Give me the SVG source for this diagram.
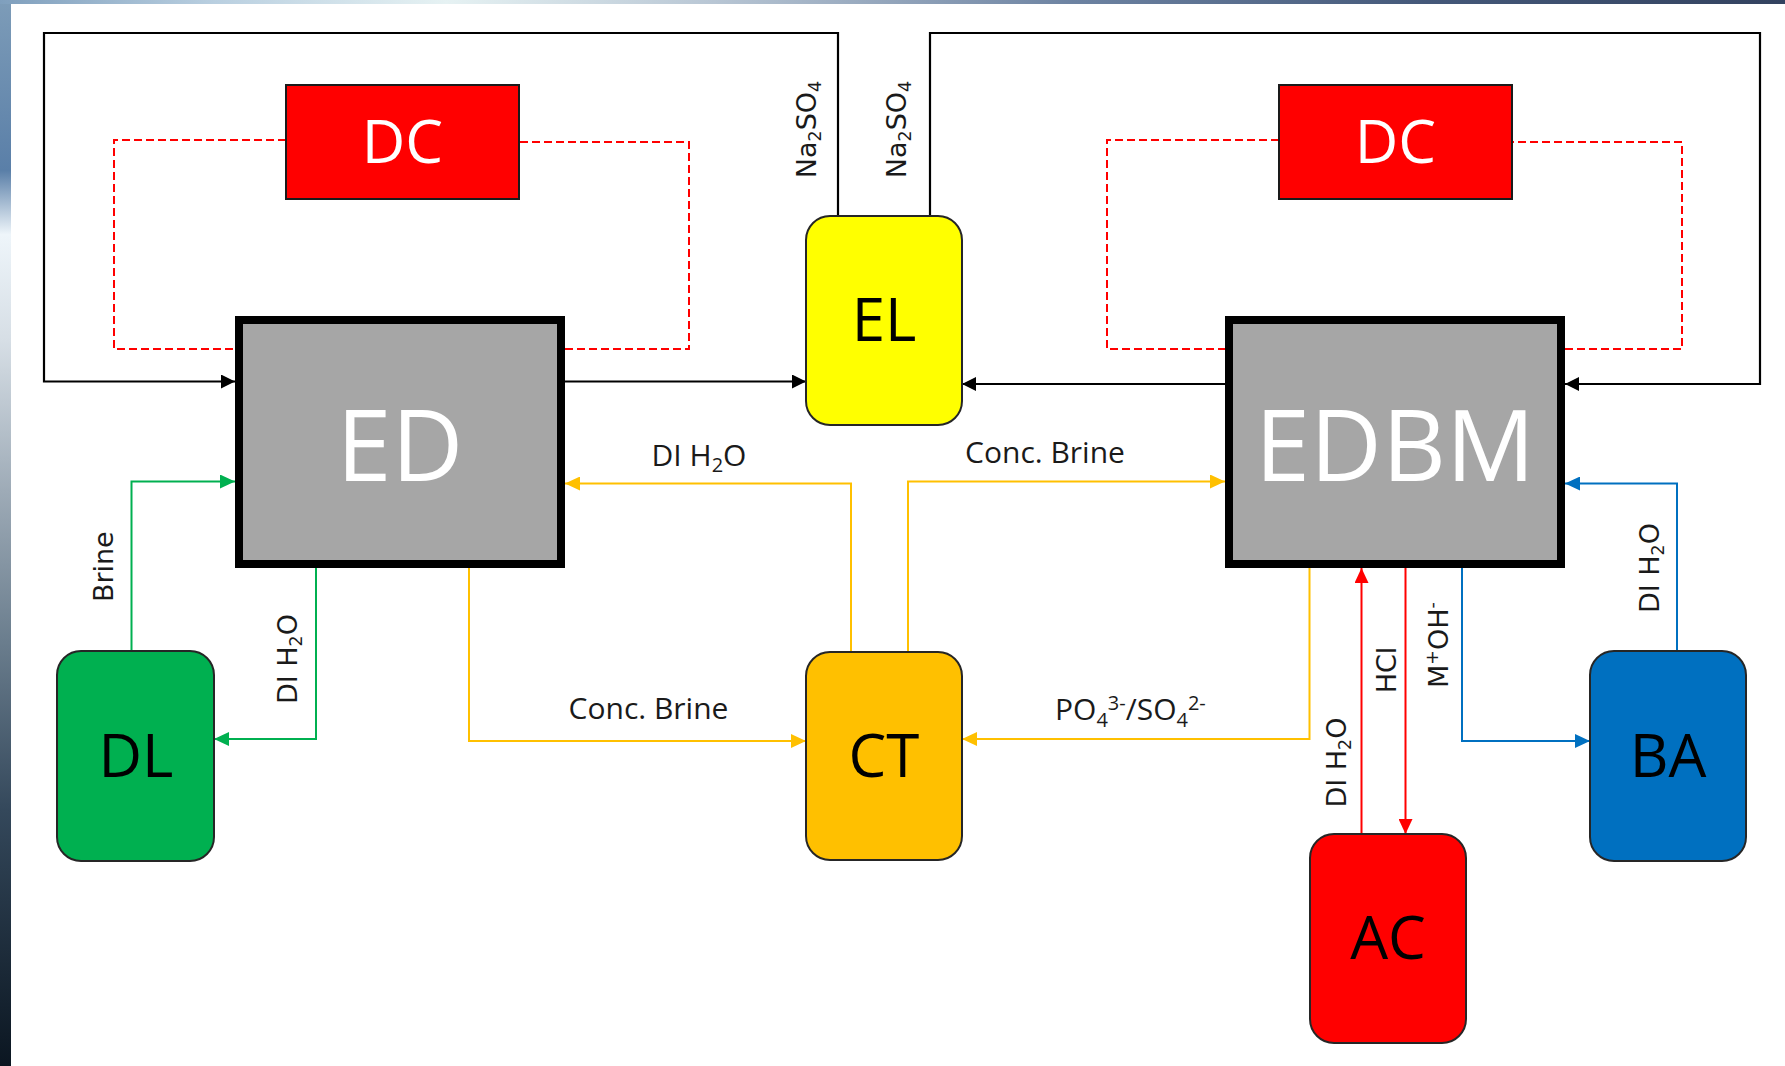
<svg xmlns="http://www.w3.org/2000/svg" width="1785" height="1066" viewBox="0 0 1785 1066">
  <defs>
    <linearGradient id="leftGrad" x1="0" y1="0" x2="0" y2="1">
      <stop offset="0" stop-color="#7d9cb8"/>
      <stop offset="0.16" stop-color="#5a7fa8"/>
      <stop offset="0.22" stop-color="#eef5fa"/>
      <stop offset="0.32" stop-color="#d6dee5"/>
      <stop offset="0.46" stop-color="#9eabb7"/>
      <stop offset="0.6" stop-color="#6b7e8e"/>
      <stop offset="0.76" stop-color="#34485b"/>
      <stop offset="1" stop-color="#0b1621"/>
    </linearGradient>
    <linearGradient id="topGrad" x1="0" y1="0" x2="1" y2="0">
      <stop offset="0" stop-color="#7f9fbd"/>
      <stop offset="0.12" stop-color="#b9cfe0"/>
      <stop offset="0.25" stop-color="#e6f2f3"/>
      <stop offset="0.4" stop-color="#b8c6d4"/>
      <stop offset="0.6" stop-color="#6d83a2"/>
      <stop offset="0.8" stop-color="#445879"/>
      <stop offset="1" stop-color="#33425f"/>
    </linearGradient>
    <marker id="arBlack" markerUnits="userSpaceOnUse" markerWidth="14" markerHeight="14" viewBox="0 0 14 14" refX="14" refY="7" orient="auto">
      <path d="M0,0 L14,7 L0,14 z" fill="#000"/>
    </marker>
    <marker id="arGreen" markerUnits="userSpaceOnUse" markerWidth="15" markerHeight="14" viewBox="0 0 15 14" refX="15" refY="7" orient="auto">
      <path d="M0,0 L15,7 L0,14 z" fill="#00B050"/>
    </marker>
    <marker id="arYellow" markerUnits="userSpaceOnUse" markerWidth="15" markerHeight="14" viewBox="0 0 15 14" refX="15" refY="7" orient="auto">
      <path d="M0,0 L15,7 L0,14 z" fill="#FFC000"/>
    </marker>
    <marker id="arRed" markerUnits="userSpaceOnUse" markerWidth="15" markerHeight="14" viewBox="0 0 15 14" refX="15" refY="7" orient="auto">
      <path d="M0,0 L15,7 L0,14 z" fill="#FF0000"/>
    </marker>
    <marker id="arBlue" markerUnits="userSpaceOnUse" markerWidth="15" markerHeight="14" viewBox="0 0 15 14" refX="15" refY="7" orient="auto">
      <path d="M0,0 L15,7 L0,14 z" fill="#0070C0"/>
    </marker>
  </defs>
  <style>
    .blk { fill: none; stroke: #000; stroke-width: 2.2; }
    .dash { fill: none; stroke: #FF0000; stroke-width: 2; stroke-dasharray: 8 4; }
    .grn { fill: none; stroke: #00B050; stroke-width: 2; }
    .yel { fill: none; stroke: #FFC000; stroke-width: 2; }
    .red { fill: none; stroke: #FF0000; stroke-width: 2; }
    .blu { fill: none; stroke: #0070C0; stroke-width: 2; }
    .dc { fill: #FF0000; stroke: #1a1a1a; stroke-width: 2; }
    .proc { fill: #A6A6A6; stroke: #000; stroke-width: 8; }
    .tank { stroke: #262626; stroke-width: 2; }
    .big { font-family: "Open Sans", "Liberation Sans", sans-serif; font-size: 60px; text-anchor: middle; }
    .huge { font-family: "Open Sans", "Liberation Sans", sans-serif; font-size: 99px; text-anchor: middle; fill: #FFFFFF; }
    .lbl { font-family: "Open Sans", "Liberation Sans", sans-serif; font-size: 30px; fill: #1a1a1a; }
    .rlbl { font-family: "DejaVu Sans", "Liberation Sans", sans-serif; font-size: 27px; fill: #1a1a1a; text-anchor: middle; }
  </style>

  <g id="background">
    <rect x="0" y="0" width="1785" height="1066" fill="#FFFFFF"/>
    <rect x="0" y="0" width="11" height="1066" fill="url(#leftGrad)"/>
    <rect x="0" y="0" width="1785" height="4" fill="url(#topGrad)"/>
  </g>

  <g id="connectors">
    <!-- black electrolyte loops -->
    <path class="blk" d="M838,216 V33 H44 V381.5 H235" marker-end="url(#arBlack)"/>
    <path class="blk" d="M565,381.5 H806" marker-end="url(#arBlack)"/>
    <path class="blk" d="M930,216 V33 H1760 V384 H1565" marker-end="url(#arBlack)"/>
    <path class="blk" d="M1225,384 H962" marker-end="url(#arBlack)"/>
    <!-- red dashed DC wiring -->
    <path class="dash" d="M286,140 H114 V349 H235"/>
    <path class="dash" d="M565,349 H689 V142 H519"/>
    <path class="dash" d="M1279,140 H1107 V349 H1225"/>
    <path class="dash" d="M1565,349 H1682 V142 H1512"/>
    <!-- green -->
    <path class="grn" d="M131.5,651 V481.5 H235" marker-end="url(#arGreen)"/>
    <path class="grn" d="M316,568 V739 H214" marker-end="url(#arGreen)"/>
    <!-- yellow -->
    <path class="yel" d="M469,568 V741 H806" marker-end="url(#arYellow)"/>
    <path class="yel" d="M851,652 V483.5 H565" marker-end="url(#arYellow)"/>
    <path class="yel" d="M908,652 V481.5 H1225" marker-end="url(#arYellow)"/>
    <path class="yel" d="M1309.5,568 V739 H962" marker-end="url(#arYellow)"/>
    <!-- red -->
    <path class="red" d="M1361.5,834 V568" marker-end="url(#arRed)"/>
    <path class="red" d="M1405.5,568 V834" marker-end="url(#arRed)"/>
    <!-- blue -->
    <path class="blu" d="M1462,568 V741 H1590" marker-end="url(#arBlue)"/>
    <path class="blu" d="M1677,651 V483.5 H1565" marker-end="url(#arBlue)"/>

    <!-- connector labels -->
    <text class="rlbl" transform="translate(816,129.5) rotate(-90)">Na<tspan font-size="17.5" dy="5">2</tspan><tspan dy="-5">SO</tspan><tspan font-size="17.5" dy="5">4</tspan></text>
    <text class="rlbl" transform="translate(906,129.5) rotate(-90)">Na<tspan font-size="17.5" dy="5">2</tspan><tspan dy="-5">SO</tspan><tspan font-size="17.5" dy="5">4</tspan></text>
    <text class="rlbl" transform="translate(113,566.7) rotate(-90)">Brine</text>
    <text class="rlbl" transform="translate(297,659) rotate(-90)">DI H<tspan font-size="17.5" dy="5">2</tspan><tspan dy="-5">O</tspan></text>
    <text class="rlbl" transform="translate(1346,762.5) rotate(-90)">DI H<tspan font-size="17.5" dy="5">2</tspan><tspan dy="-5">O</tspan></text>
    <text class="rlbl" transform="translate(1396,670) rotate(-90)">HCl</text>
    <text class="rlbl" transform="translate(1448,645) rotate(-90)">M<tspan font-size="17.5" dy="-10">+</tspan><tspan dy="10">OH</tspan><tspan font-size="17.5" dy="-10">-</tspan></text>
    <text class="rlbl" transform="translate(1659,568) rotate(-90)">DI H<tspan font-size="17.5" dy="5">2</tspan><tspan dy="-5">O</tspan></text>

    <text class="lbl" x="699" y="466" text-anchor="middle">DI H<tspan font-size="20" dy="6">2</tspan><tspan dy="-6">O</tspan></text>
    <text class="lbl" x="1045" y="463" text-anchor="middle">Conc. Brine</text>
    <text class="lbl" x="648.5" y="719" text-anchor="middle">Conc. Brine</text>
    <text class="lbl" x="1055" y="720">PO<tspan font-size="20" dy="7">4</tspan><tspan font-size="20" dy="-17">3-</tspan><tspan dy="10">/SO</tspan><tspan font-size="20" dy="7">4</tspan><tspan font-size="20" dy="-17">2-</tspan></text>
  </g>

  <g id="node-DC-left">
    <rect class="dc" x="286" y="85" width="233" height="114"/>
    <text class="big" x="402.5" y="162.5" fill="#FFFFFF">DC</text>
  </g>
  <g id="node-DC-right">
    <rect class="dc" x="1279" y="85" width="233" height="114"/>
    <text class="big" x="1395.5" y="162.5" fill="#FFFFFF">DC</text>
  </g>
  <g id="node-ED">
    <rect class="proc" x="239" y="320" width="322" height="244"/>
    <text class="huge" x="400" y="480.5">ED</text>
  </g>
  <g id="node-EDBM">
    <rect class="proc" x="1229" y="320" width="332" height="244"/>
    <text class="huge" x="1395" y="480.5">EDBM</text>
  </g>
  <g id="node-EL">
    <rect class="tank" x="806" y="216" width="156" height="209" rx="24" fill="#FFFF00"/>
    <text class="big" x="884" y="341" fill="#000">EL</text>
  </g>
  <g id="node-CT">
    <rect class="tank" x="806" y="652" width="156" height="208" rx="24" fill="#FFC000"/>
    <text class="big" x="884" y="777" fill="#000">CT</text>
  </g>
  <g id="node-DL">
    <rect class="tank" x="57" y="651" width="157" height="210" rx="24" fill="#00B050"/>
    <text class="big" x="136" y="777" fill="#000">DL</text>
  </g>
  <g id="node-BA">
    <rect class="tank" x="1590" y="651" width="156" height="210" rx="24" fill="#0070C0"/>
    <text class="big" x="1668" y="777" fill="#000">BA</text>
  </g>
  <g id="node-AC">
    <rect class="tank" x="1310" y="834" width="156" height="209" rx="24" fill="#FF0000"/>
    <text class="big" x="1388" y="959" fill="#000">AC</text>
  </g>
</svg>
